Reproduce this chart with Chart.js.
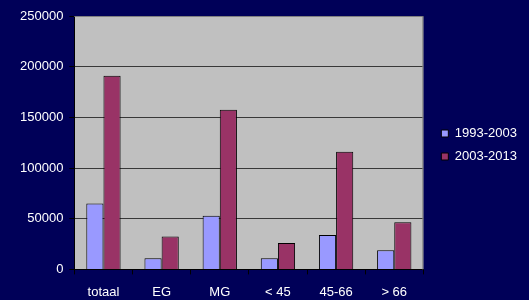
<!DOCTYPE html>
<html>
<head>
<meta charset="utf-8">
<script src="https://cdn.jsdelivr.net/npm/chart.js@4/dist/chart.umd.min.js"></script>
<style>
  html, body { margin: 0; padding: 0; background: #000058; }
  #wrap { width: 529px; height: 300px; }
</style>
</head>
<body>
<div id="wrap"><canvas id="chart" width="529" height="300"></canvas></div>
<script>
const categories = ["totaal", "EG", "MG", "< 45", "45-66", "> 66"];
const seriesNames = ["1993-2003", "2003-2013"];
const values1993 = [65000, 11000, 53000, 11000, 34000, 19000];
const values2003 = [191000, 32500, 157500, 26000, 116000, 46500];
const yTicks = [0, 50000, 100000, 150000, 200000, 250000];

// grey plot area with a thin frame on top and right
const plotArea = {
  id: "plotArea",
  afterLayout(chart) {
    // nudge the legend a bit away from the plot, like the original
    const lg = chart.legend;
    if (lg) {
      lg.left += 8; lg.right += 8;
      const dy = 145 - (lg.top + lg.bottom) / 2;
      lg.top += dy; lg.bottom += dy;
    }
  },
  beforeDraw(chart) {
    const { ctx, chartArea: a } = chart;
    ctx.save();
    ctx.fillStyle = "#c0c0c0";
    ctx.fillRect(a.left, a.top, a.right - a.left, a.bottom - a.top);
    ctx.restore();
  },
  afterDatasetsDraw(chart) {
    const { ctx, chartArea: a } = chart;
    ctx.save();
    ctx.strokeStyle = "#808080";
    ctx.lineWidth = 1;
    ctx.beginPath();
    ctx.moveTo(a.left, a.top + 0.5);
    ctx.lineTo(a.right - 0.5, a.top + 0.5);
    ctx.lineTo(a.right - 0.5, a.bottom);
    ctx.stroke();
    ctx.restore();
  }
};

const font = { family: "'Liberation Sans', Arial, sans-serif", size: 13 };

new Chart(document.getElementById("chart"), {
  type: "bar",
  data: {
    labels: categories,
    datasets: [
      {
        label: seriesNames[0],
        data: values1993,
        backgroundColor: "#9999ff",
        borderColor: "#000000",
        borderWidth: 1,
        categoryPercentage: 0.59,
        barPercentage: 1,
      },
      {
        label: seriesNames[1],
        data: values2003,
        backgroundColor: "#993366",
        borderColor: "#000000",
        borderWidth: 1,
        categoryPercentage: 0.59,
        barPercentage: 1,
      },
    ],
  },
  options: {
    responsive: false,
    animation: false,
    layout: { padding: { left: 14, right: 10, top: 16, bottom: -10 } },
    plugins: {
      tooltip: { enabled: false },
      legend: {
        position: "right",
        labels: {
          color: "#ffffff",
          font: font,
          boxWidth: 7,
          boxHeight: 7,
          padding: 10,
        },
      },
    },
    scales: {
      x: {
        offset: true,
        grid: {
          offset: true,
          drawOnChartArea: false,
          drawTicks: true,
          tickLength: 5,
          tickColor: "#000000",
        },
        border: { color: "#000000", width: 1 },
        ticks: { color: "#ffffff", font: font, padding: 10, maxRotation: 0 },
      },
      y: {
        min: 0,
        max: 250000,
        afterBuildTicks(axis) {
          axis.ticks = yTicks.map((v) => ({ value: v }));
        },
        grid: {
          color: "#383838",
          lineWidth: 1,
          drawTicks: true,
          tickLength: 5,
          tickColor: "#000000",
        },
        border: { color: "#000000", width: 1 },
        ticks: {
          color: "#ffffff",
          font: font,
          padding: 6,
          callback: (v) => String(v),
        },
      },
    },
  },
  plugins: [plotArea],
});
</script>
</body>
</html>
